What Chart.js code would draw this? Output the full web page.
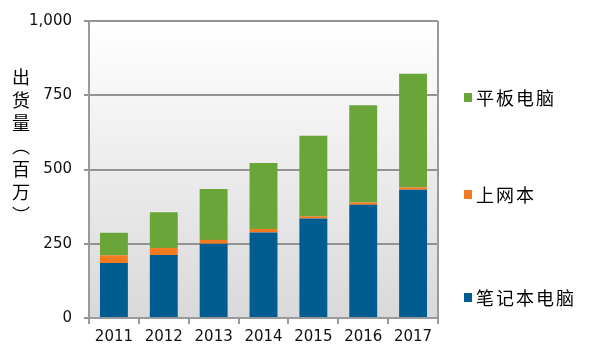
<!DOCTYPE html>
<html>
<head>
<meta charset="utf-8">
<script src="https://cdn.jsdelivr.net/npm/chart.js@4.4.1/dist/chart.umd.min.js"></script>
<style>
  html, body { margin: 0; padding: 0; background: #ffffff; }
  #wrap { position: relative; width: 591px; height: 353px; overflow: hidden; }
  #c { position: absolute; left: 0; top: 0; }
  #ytitle {
    position: absolute; left: 12px; top: 68px;
    writing-mode: vertical-rl;
    font-family: "Noto Sans CJK SC", sans-serif; font-size: 18px;
    letter-spacing: 5px; color: #000; line-height: 1;
  }
  .leg { position: absolute; left: 464px; font-family: "Noto Sans CJK SC", sans-serif;
    font-size: 18px; letter-spacing: 2px; color: #000; line-height: 1; display: flex; align-items: center; }
  .leg span.sw { display: inline-block; width: 8px; height: 9px; margin-right: 4px; }
</style>
</head>
<body>
<div id="wrap">
  <canvas id="c" width="591" height="353"></canvas>
  <div id="ytitle">出货量︵百万︶</div>
  <div id="legend"></div>
</div>
<script>
const years = ["2011", "2012", "2013", "2014", "2015", "2016", "2017"];
const notebook = [185, 212, 250, 288, 335, 381, 432];
const netbook = [26, 24, 13, 12, 7, 8, 8];
const tablet = [76, 120, 171, 222, 272, 327, 382];
const yTicks = [0, 250, 500, 750, 1000];
const seriesNames = ["笔记本电脑", "上网本", "平板电脑"];
const seriesColors = ["#005d91", "#f47a22", "#6aa53a"];

// legend (HTML text)
const legendPos = [{ i: 2, top: 88 }, { i: 1, top: 185 }, { i: 0, top: 288 }];
const legEl = document.getElementById('legend');
legendPos.forEach(p => {
  const d = document.createElement('div');
  d.className = 'leg';
  d.style.top = p.top + 'px';
  d.innerHTML = '<span class="sw" style="background:' + seriesColors[p.i] + '"></span>' + seriesNames[p.i];
  legEl.appendChild(d);
});

const bgPlugin = {
  id: 'bgPlugin',
  beforeDraw(chart) {
    const { ctx, chartArea: a } = chart;
    const g = ctx.createLinearGradient(0, a.top, 0, a.bottom);
    g.addColorStop(0, '#ffffff');
    g.addColorStop(1, '#d9d9d9');
    ctx.save();
    ctx.fillStyle = g;
    ctx.fillRect(a.left, a.top, a.right - a.left, a.bottom - a.top);
    ctx.restore();
  },
  afterDatasetsDraw(chart) {
    const { ctx, chartArea: a } = chart;
    ctx.save();
    ctx.strokeStyle = '#9a9a9a';
    ctx.lineWidth = 2;
    ctx.beginPath();
    ctx.moveTo(a.right, a.top);
    ctx.lineTo(a.right, a.bottom);
    ctx.stroke();
    ctx.restore();
  }
};

const tickFont = { family: '"DejaVu Sans", Verdana, sans-serif', size: 15 };

new Chart(document.getElementById('c'), {
  type: 'bar',
  data: {
    labels: years,
    datasets: [
      { label: seriesNames[0], data: notebook, backgroundColor: seriesColors[0] },
      { label: seriesNames[1], data: netbook, backgroundColor: seriesColors[1] },
      { label: seriesNames[2], data: tablet, backgroundColor: seriesColors[2] }
    ]
  },
  options: {
    responsive: false,
    animation: false,
    devicePixelRatio: 1,
    layout: { padding: { left: 0, right: 153, top: 20, bottom: 0 } },
    datasets: { bar: { categoryPercentage: 1, barPercentage: 0.56, borderWidth: 0 } },
    plugins: { legend: { display: false }, tooltip: { enabled: false } },
    scales: {
      x: {
        stacked: true,
        offset: true,
        grid: { display: true, drawOnChartArea: false, drawTicks: true, tickLength: 6, color: '#9a9a9a', lineWidth: 2, offset: true },
        border: { display: true, color: '#9a9a9a', width: 2 },
        ticks: { font: tickFont, color: '#111', padding: 4, maxRotation: 0 },
        afterFit(s) { s.height = 35; }
      },
      y: {
        stacked: true,
        min: 0, max: 1000,
        afterBuildTicks(s) { s.ticks = yTicks.map(v => ({ value: v })); },
        grid: { color: '#939393', lineWidth: 2, tickLength: 5 },
        border: { display: true, color: '#9a9a9a', width: 2 },
        ticks: { font: tickFont, color: '#111', padding: 12, callback: v => v.toLocaleString('en-US') },
        afterFit(s) { s.width = 89; }
      }
    }
  },
  plugins: [bgPlugin]
});
</script>
</body>
</html>
